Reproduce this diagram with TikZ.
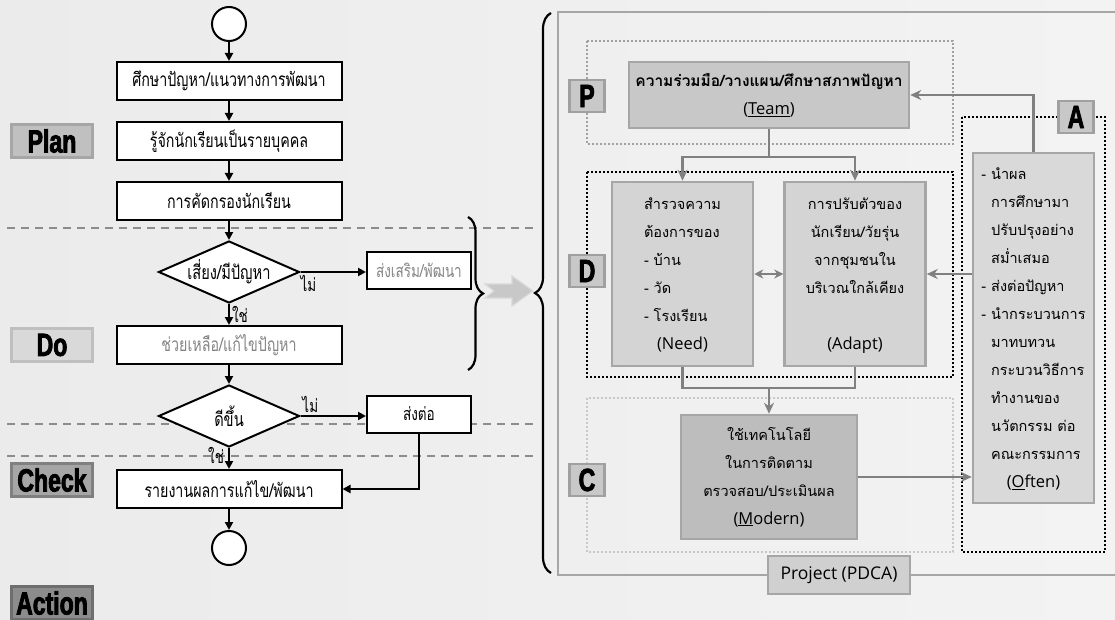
\documentclass[tikz,border=0pt]{standalone}
\usepackage{fontspec}
\usepackage{tikz}
\usetikzlibrary{arrows.meta}
\usetikzlibrary{shapes.geometric}
\usetikzlibrary{decorations.pathreplacing}
\setmainfont[Script=Thai]{Loma}
\newfontfamily\thainarrow[Script=Thai,FakeStretch=0.75]{Loma}
\newfontfamily\latinfont{Open Sans}
\newfontfamily\phasefont[FakeStretch=0.72,FakeBold=2.5]{Liberation Sans Bold}
\definecolor{bgleft}{HTML}{EBEBEB}
\definecolor{bgright}{HTML}{F3F3F3}
\definecolor{dashgray}{HTML}{8C8C8C}
\definecolor{planfill}{HTML}{C0C0C0}
\definecolor{planline}{HTML}{A6A6A6}
\definecolor{dofill}{HTML}{D9D9D9}
\definecolor{doline}{HTML}{BFBFBF}
\definecolor{checkfill}{HTML}{A6A6A6}
\definecolor{checkline}{HTML}{808080}
\definecolor{actfill}{HTML}{8C8C8C}
\definecolor{actline}{HTML}{6E6E6E}
\definecolor{pfill}{HTML}{C8C8C8}
\definecolor{pline}{HTML}{A0A0A0}
\definecolor{cardline}{HTML}{A6A6A6}
\definecolor{teamfill}{HTML}{C8C8C8}
\definecolor{needfill}{HTML}{D4D4D4}
\definecolor{modernfill}{HTML}{BDBDBD}
\definecolor{oftenfill}{HTML}{D9D9D9}
\definecolor{projfill}{HTML}{D0D0D0}
\definecolor{linkgray}{HTML}{808080}
\definecolor{softtext}{HTML}{858585}
\tikzset{stepbox/.style = {draw, line width=2pt, fill=white, minimum width=225pt,
                           minimum height=38pt, inner sep=0pt,
                           font=\thainarrow\fontsize{19}{22}\selectfont},
         sidebox/.style = {stepbox, minimum width=104pt, minimum height=37pt,
                           font=\thainarrow\fontsize{18}{22}\selectfont},
         decision/.style = {diamond, draw, line width=2pt, fill=white, aspect=2.3,
                            minimum width=141pt, minimum height=62pt, inner sep=0pt,
                            font=\thainarrow\fontsize{19.5}{22}\selectfont},
         terminal/.style = {circle, draw, line width=2pt, fill=white,
                            minimum size=34pt, inner sep=0pt},
         flow/.style = {line width=2pt, -{Triangle[length=8pt,width=8pt]}},
         answer/.style = {font=\thainarrow\fontsize{18}{20}\selectfont, inner sep=2pt},
         divider/.style = {draw=dashgray, line width=2.5pt, dash pattern=on 8pt off 6pt},
         phase/.style = {draw, line width=2.5pt, minimum width=81pt, minimum height=33pt,
                         inner sep=0pt, font=\phasefont\fontsize{32}{32}\selectfont},
         letterbox/.style = {phase, minimum width=35pt, minimum height=32pt,
                             fill=pfill, draw=pline},
         card/.style = {draw=cardline, line width=2.5pt, inner sep=0pt,
                        font=\fontsize{14.5}{28}\selectfont},
         frame/.style = {line width=2.5pt, dash pattern=on 2pt off 2pt},
         link/.style = {draw=linkgray, line width=2.2pt},
         linkarrow/.style = {link, -{Stealth[length=11pt,width=10pt]}}}
\newcommand{\en}{\latinfont\fontsize{16.5}{28}\selectfont}

\begin{document}
\begin{tikzpicture}[x=1pt, y=-1pt]
    \useasboundingbox (0,0) rectangle (1115,620);
    \fill[left color=bgleft, right color=bgright] (0,0) rectangle (1115,620);
    \draw[divider] (7,228) -- (536,228);
    \draw[divider] (7,424) -- (536,424);
    \draw[divider] (7,456) -- (536,456);

    \node[phase, fill=planfill, draw=planline] (plan) at (52,141) {Plan};
    \node[phase, fill=dofill, draw=doline] (do) at (52,345) {Do};
    \node[phase, fill=checkfill, draw=checkline] (check) at (52,480) {Check};
    \node[phase, fill=actfill, draw=actline] (action) at (52,603) {Action};

    \node[terminal] (start) at (229,24) {};
    \node[stepbox] (study) at (229,81) {ศึกษาปัญหา/แนวทางการพัฒนา};
    \node[stepbox] (know) at (229,141) {รู้จักนักเรียนเป็นรายบุคคล};
    \node[stepbox] (screen) at (229,201) {การคัดกรองนักเรียน};
    \node[decision] (risk) at (229,272) {เสี่ยง/มีปัญหา};
    \node[sidebox, text=softtext] (promote) at (419,270) {ส่งเสริม/พัฒนา};
    \node[stepbox, text=softtext] (help) at (229,345) {ช่วยเหลือ/แก้ไขปัญหา};
    \node[decision] (better) at (229,416) {ดีขึ้น};
    \node[sidebox] (refer) at (419,414) {ส่งต่อ};
    \node[stepbox] (report) at (229,489) {รายงานผลการแก้ไข/พัฒนา};
    \node[terminal] (stop) at (229,548) {};

    \draw[flow] (start) -- (study);
    \draw[flow] (study) -- (know);
    \draw[flow] (know) -- (screen);
    \draw[flow] (screen) -- (risk);
    \draw[flow] (risk) -- node[answer, below, pos=0.12] {ไม่} (risk -| promote.west);
    \draw[flow] (risk) -- node[answer, right] {ใช่} (help);
    \draw[flow] (help) -- (better);
    \draw[flow] (better) -- node[answer, above, pos=0.15] {ไม่} (better -| refer.west);
    \draw[flow] (better) -- node[answer, left, pos=0.35, xshift=-2pt] {ใช่} (report);
    \draw[flow] (refer) |- (report);
    \draw[flow] (report) -- (stop);

    \draw[line width=2.2pt, decorate, decoration={brace, amplitude=15pt}] (468,217) -- (468,370);
    \draw[line width=2.2pt, decorate, decoration={brace, amplitude=16pt}] (551,573) -- (551,13);
    \draw[fill=pfill, draw=dofill, line width=1.2pt] (485,284) -- (512,284) -- (512,276) -- (533,291)
        -- (512,306) -- (512,298) -- (485,298) -- (494,291) -- cycle;

    \draw[draw=cardline, line width=2.5pt] (1125,12) -- (558,12) -- (558,575) -- (1125,575);
    \draw[frame, draw=pline] (587,41) rectangle (953,144);
    \draw[frame, draw=black] (587,172) rectangle (953,377);
    \draw[frame, draw=pfill] (587,398) rectangle (953,552);
    \draw[frame, draw=black] (962,117) rectangle (1105,552);

    \node[letterbox] (p) at (587,96) {P};
    \node[letterbox] (d) at (587,271) {D};
    \node[letterbox] (c) at (587,480) {C};
    \node[letterbox] (a) at (1076,117) {A};

    \node[card, fill=teamfill, minimum width=280pt, minimum height=66pt, align=center] (team) at (769,95)
        {{\bfseries\fontsize{15.5}{28}\selectfont ความร่วมมือ/วางแผน/ศึกษาสภาพปัญหา}\\{\en(\underline{Team})}};
    \node[card, fill=needfill, minimum width=141pt, minimum height=184pt] (need) at (682.5,274)
        {\begin{tabular}{@{}l@{}}สำรวจความ\\ต้องการของ\\- บ้าน\\- วัด\\- โรงเรียน\\
         \multicolumn{1}{c}{\en(Need)}\end{tabular}};
    \node[card, fill=needfill, minimum width=141pt, minimum height=184pt] (adapt) at (855,274)
        {\begin{tabular}{@{}c@{}}การปรับตัวของ\\นักเรียน/วัยรุ่น\\จากชุมชนใน\\บริเวณใกล้เคียง\\ \\
         {\en(Adapt)}\end{tabular}};
    \node[card, fill=modernfill, minimum width=176pt, minimum height=124pt, align=center] (modern) at (769,477)
        {ใช้เทคโนโลยี\\ในการติดตาม\\ตรวจสอบ/ประเมินผล\\{\en(\underline{M}odern)}};
    \node[card, fill=oftenfill, minimum width=121pt, minimum height=350pt] (often) at (1033.5,328)
        {\begin{tabular}{@{}l@{}}- นำผล\\\phantom{- }การศึกษามา\\\phantom{- }ปรับปรุงอย่าง\\
         \phantom{- }สม่ำเสมอ\\- ส่งต่อปัญหา\\- นำกระบวนการ\\\phantom{- }มาทบทวน\\
         \phantom{- }กระบวนวิธีการ\\\phantom{- }ทำงานของ\\\phantom{- }นวัตกรรม ต่อ\\
         \phantom{- }คณะกรรมการ\\\multicolumn{1}{c}{\en(\underline{O}ften)}\end{tabular}};
    \node[card, fill=projfill, minimum width=142pt, minimum height=38pt,
          font=\latinfont\fontsize{17.5}{20}\selectfont] (project) at (839,575) {Project (PDCA)};

    \coordinate (split) at (769,157);
    \coordinate (merge) at (769,388);
    \draw[link] (team) -- (split);
    \draw[linkarrow] (split) -| (need);
    \draw[linkarrow] (split) -| (adapt);
    \draw[link] (need) |- (merge);
    \draw[link] (adapt) |- (merge);
    \draw[linkarrow] (merge) -- (modern);
    \draw[link, {Stealth[length=9pt,width=9pt]}-{Stealth[length=9pt,width=9pt]}] (need) -- (adapt);
    \draw[linkarrow] (often.west |- adapt.east) -- (adapt.east);
    \draw[linkarrow] (modern) -- (modern -| often.west);
    \draw[linkarrow] (often) |- (team);
\end{tikzpicture}
\end{document}
